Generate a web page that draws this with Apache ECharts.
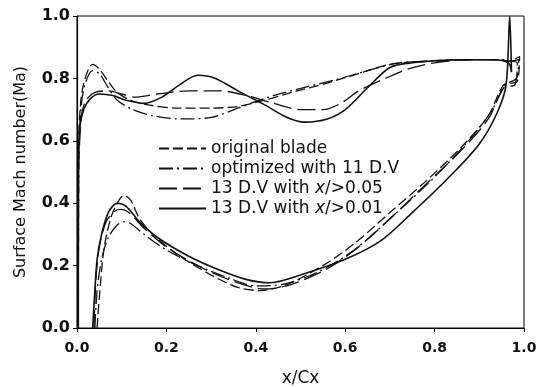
<!DOCTYPE html>
<html>
<head>
<meta charset="utf-8">
<script src="https://cdn.jsdelivr.net/npm/echarts@6/dist/echarts.min.js"></script>
<style>
  html, body { margin: 0; padding: 0; background: #fff; }
  #chart { width: 539px; height: 387px; }
</style>
</head>
<body>
<div id="chart"></div>
<script>
// tick labels
const xTicks = [0, 0.2, 0.4, 0.6, 0.8, 1.0];
const yTicks = [0, 0.2, 0.4, 0.6, 0.8, 1.0];

const seriesNames = [
  'original blade',
  'optimized with 11 D.V',
  '13 D.V with x/>0.05',
  '13 D.V with x/>0.01'
];

// pressure side (lower branch), leading edge -> trailing edge, [x/Cx, Ma]
const originalPressure = [[0.045,0],[0.05,0.1],[0.06,0.25],[0.075,0.35],[0.09,0.40],[0.105,0.425],[0.12,0.41],[0.14,0.35],[0.17,0.30],[0.22,0.24],[0.3,0.17],[0.36,0.13],[0.41,0.12],[0.47,0.14],[0.55,0.2],[0.62,0.27],[0.7,0.37],[0.78,0.47],[0.86,0.58],[0.92,0.68],[0.955,0.78],[0.985,0.79],[0.99,0.87]];
const opt11Pressure = [[0.04,0],[0.045,0.12],[0.055,0.22],[0.07,0.29],[0.09,0.33],[0.105,0.34],[0.12,0.335],[0.15,0.30],[0.2,0.25],[0.27,0.2],[0.34,0.16],[0.4,0.135],[0.46,0.14],[0.54,0.18],[0.62,0.25],[0.7,0.35],[0.79,0.47],[0.87,0.59],[0.925,0.69],[0.958,0.78],[0.983,0.80],[0.988,0.86]];
const dv13aPressure = [[0.038,0],[0.042,0.15],[0.05,0.26],[0.065,0.34],[0.085,0.375],[0.1,0.38],[0.12,0.365],[0.15,0.32],[0.2,0.26],[0.27,0.2],[0.34,0.155],[0.42,0.125],[0.48,0.14],[0.56,0.19],[0.63,0.26],[0.7,0.35],[0.78,0.46],[0.86,0.57],[0.92,0.67],[0.955,0.77],[0.98,0.78],[0.985,0.85]];
const dv13bPressure = [[0.035,0],[0.04,0.12],[0.045,0.22],[0.055,0.30],[0.07,0.37],[0.09,0.40],[0.11,0.39],[0.14,0.34],[0.18,0.29],[0.25,0.23],[0.32,0.185],[0.38,0.155],[0.43,0.145],[0.5,0.17],[0.6,0.22],[0.68,0.28],[0.75,0.37],[0.83,0.48],[0.9,0.59],[0.94,0.69],[0.96,0.78],[0.968,1.0],[0.972,0.82]];

// suction side (upper branch), leading edge -> trailing edge
const originalSuction = [[0.002,0],[0.003,0.55],[0.008,0.72],[0.018,0.80],[0.035,0.845],[0.05,0.83],[0.07,0.79],[0.09,0.755],[0.12,0.73],[0.16,0.715],[0.22,0.705],[0.3,0.705],[0.36,0.71],[0.42,0.73],[0.48,0.755],[0.56,0.785],[0.64,0.82],[0.7,0.845],[0.78,0.855],[0.88,0.86],[0.94,0.86],[0.965,0.855]];
const opt11Suction = [[0.003,0],[0.004,0.55],[0.01,0.72],[0.02,0.79],[0.035,0.825],[0.05,0.815],[0.07,0.77],[0.09,0.73],[0.125,0.70],[0.17,0.68],[0.23,0.67],[0.3,0.675],[0.36,0.705],[0.44,0.745],[0.52,0.775],[0.59,0.80],[0.65,0.825],[0.72,0.85],[0.8,0.855],[0.9,0.86],[0.95,0.86],[0.965,0.855]];
const dv13aSuction = [[0.003,0],[0.004,0.5],[0.01,0.68],[0.02,0.73],[0.04,0.755],[0.07,0.76],[0.1,0.75],[0.13,0.74],[0.18,0.75],[0.25,0.76],[0.32,0.76],[0.38,0.745],[0.44,0.72],[0.5,0.70],[0.55,0.70],[0.59,0.72],[0.63,0.76],[0.69,0.80],[0.74,0.83],[0.8,0.85],[0.88,0.86],[0.94,0.86],[0.965,0.855]];
const dv13bSuction = [[0.003,0],[0.003,0.5],[0.006,0.64],[0.015,0.70],[0.03,0.735],[0.05,0.75],[0.08,0.745],[0.11,0.73],[0.15,0.72],[0.19,0.74],[0.23,0.78],[0.27,0.81],[0.31,0.80],[0.36,0.76],[0.42,0.715],[0.47,0.675],[0.51,0.66],[0.56,0.67],[0.6,0.70],[0.65,0.77],[0.7,0.835],[0.75,0.85],[0.85,0.86],[0.93,0.86],[0.965,0.85]];

const lineTypes = [[10, 4], [14, 4, 2, 4], [18, 6], 'solid'];
const pressureSides = [originalPressure, opt11Pressure, dv13aPressure, dv13bPressure];
const suctionSides = [originalSuction, opt11Suction, dv13aSuction, dv13bSuction];

// one closed path per blade: pressure side out, suction side back
function loop(p, s) {
  return p.concat(s.slice().reverse());
}

const chart = echarts.init(document.getElementById('chart'));

const option = {
  animation: false,
  backgroundColor: '#fff',
  textStyle: { fontFamily: 'DejaVu Sans' },
  grid: {
    left: 77,
    right: 15,
    top: 16,
    bottom: 59,
    outerBoundsMode: 'none',
    show: true,
    borderColor: '#000',
    borderWidth: 1
  },
  legend: {
    orient: 'vertical',
    left: 153,
    top: 135,
    itemWidth: 47,
    itemHeight: 12,
    itemGap: 3,
    data: seriesNames,
    itemStyle: { opacity: 0 },
    textStyle: {
      fontSize: 17,
      color: '#111',
      fontFamily: 'DejaVu Sans',
      rich: {
        i: { fontSize: 17, fontStyle: 'italic', color: '#111', fontFamily: 'DejaVu Sans' }
      }
    },
    formatter: function (name) {
      return name.replace('x/', '{i|x}/');
    }
  },
  xAxis: {
    type: 'value',
    min: 0,
    max: 1,
    interval: 0.2,
    name: 'x/Cx',
    nameLocation: 'middle',
    nameGap: 42,
    nameTextStyle: { fontSize: 17, color: '#111' },
    axisLine: { lineStyle: { color: '#000', width: 1.2 } },
    axisTick: { show: true, length: 4, lineStyle: { color: '#000' } },
    axisLabel: {
      fontSize: 14,
      fontWeight: 'bold',
      color: '#111',
      margin: 13,
      formatter: function (v) { return xTicks.indexOf(v) >= 0 ? v.toFixed(1) : ''; }
    },
    splitLine: { show: false }
  },
  yAxis: {
    type: 'value',
    min: 0,
    max: 1,
    interval: 0.2,
    name: 'Surface Mach number(Ma)',
    nameLocation: 'middle',
    nameGap: 48,
    nameTextStyle: { fontSize: 16, color: '#111' },
    axisLine: { lineStyle: { color: '#000', width: 1.2 } },
    axisTick: { show: true, length: 4, lineStyle: { color: '#000' } },
    axisLabel: {
      fontSize: 16,
      fontWeight: 'bold',
      color: '#111',
      margin: 7,
      formatter: function (v) { return yTicks.indexOf(v) >= 0 ? v.toFixed(1) : ''; }
    },
    splitLine: { show: false }
  },
  series: seriesNames.map(function (name, i) {
    return {
      name: name,
      type: 'line',
      symbol: 'none',
      smooth: 0.3,
      data: loop(pressureSides[i], suctionSides[i]),
      lineStyle: { color: '#111', width: i === 3 ? 1.6 : 1.3, type: lineTypes[i] },
      itemStyle: { color: '#111' }
    };
  })
};

chart.setOption(option);
</script>
</body>
</html>
